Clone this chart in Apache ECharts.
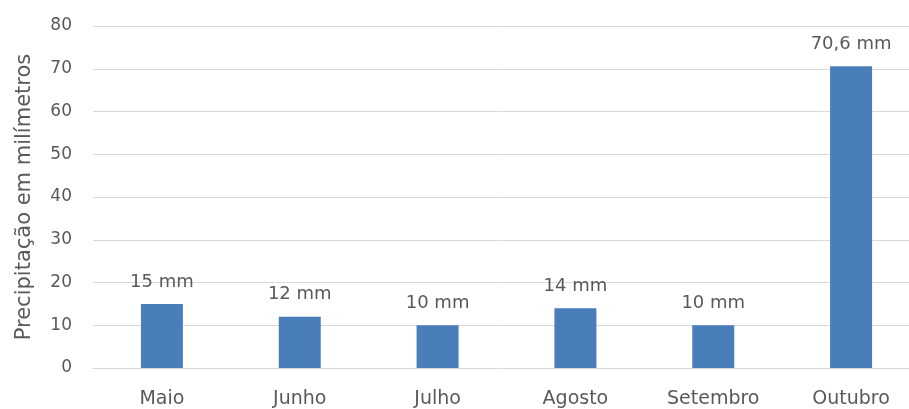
<!DOCTYPE html>
<html>
<head>
<meta charset="utf-8">
<script src="https://cdn.jsdelivr.net/npm/echarts@6/dist/echarts.min.js"></script>
<style>
  html, body { margin: 0; padding: 0; background: #ffffff; }
  #chart { width: 909px; height: 409px; }
</style>
</head>
<body>
<div id="chart"></div>
<script>
// Monthly rainfall (mm)
const months = ['Maio', 'Junho', 'Julho', 'Agosto', 'Setembro', 'Outubro'];
const rainfall = [15, 12, 10, 14, 10, 70.6];
const valueLabels = ['15 mm', '12 mm', '10 mm', '14 mm', '10 mm', '70,6 mm'];

const textColor = '#595959';
const fontFamily = '"DejaVu Sans", sans-serif';

const chart = echarts.init(document.getElementById('chart'), null, { renderer: 'canvas' });

chart.setOption({
  animation: false,
  backgroundColor: '#ffffff',
  grid: {
    left: 93, top: 26, width: 827, height: 342,
    containLabel: false,
    outerBoundsMode: 'none'
  },
  xAxis: {
    type: 'category',
    data: months,
    axisLine: { show: true, lineStyle: { color: '#d9d9d9', width: 1 } },
    axisTick: { show: false },
    axisLabel: { color: textColor, fontSize: 19, fontFamily: fontFamily, margin: 22 }
  },
  yAxis: {
    type: 'value',
    min: 0,
    max: 80,
    interval: 10,
    name: 'Precipitação em milímetros',
    nameLocation: 'middle',
    nameGap: 58,
    nameRotate: 90,
    nameTextStyle: { color: textColor, fontSize: 21, fontFamily: fontFamily },
    axisLine: { show: false },
    axisTick: { show: false },
    axisLabel: { color: textColor, fontSize: 17, fontFamily: fontFamily, margin: 21 },
    splitLine: { show: true, lineStyle: { color: '#d9d9d9', width: 1 } }
  },
  series: [{
    type: 'bar',
    data: rainfall,
    barWidth: 42,
    itemStyle: { color: '#4a7ebb' },
    label: {
      show: true,
      position: 'top',
      distance: 13,
      color: textColor,
      fontSize: 18,
      fontFamily: fontFamily,
      formatter: function (p) { return valueLabels[p.dataIndex]; }
    }
  }]
});
</script>
</body>
</html>
